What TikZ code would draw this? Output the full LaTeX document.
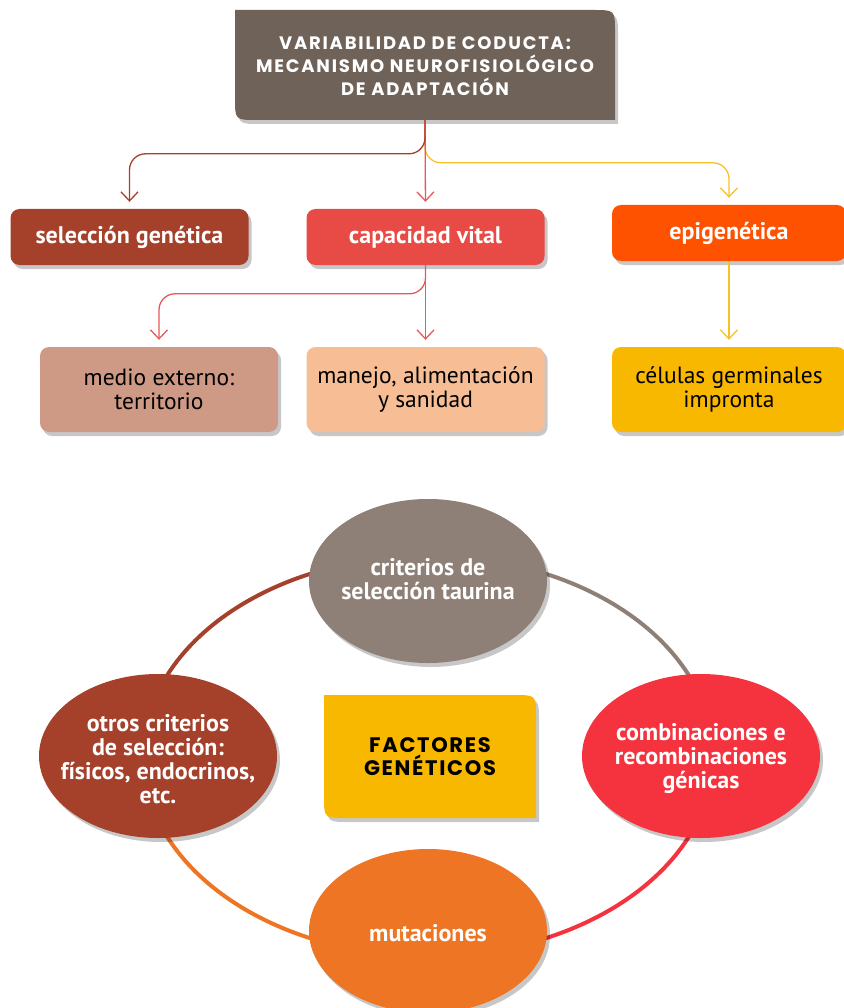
\documentclass[tikz,border=0pt]{standalone}
\usepackage{fontspec}
\setmainfont{PT Sans}
\newfontfamily\geo[LetterSpace=10]{Poppins}
\newfontfamily\geob[LetterSpace=8]{Poppins}
\usetikzlibrary{arrows.meta,shadows,calc,shapes.geometric}
\definecolor{topc}{HTML}{6E6259}
\definecolor{selc}{HTML}{A5402B}
\definecolor{capc}{HTML}{E84A45}
\definecolor{epic}{HTML}{FF5200}
\definecolor{medc}{HTML}{CF9A85}
\definecolor{manc}{HTML}{F7BE95}
\definecolor{celc}{HTML}{F9B800}
\definecolor{greyc}{HTML}{8E8077}
\definecolor{redc}{HTML}{F5333F}
\definecolor{orc}{HTML}{ED7523}
\definecolor{linered}{HTML}{E8585A}
\definecolor{lineyel}{HTML}{F8C02A}
\begin{document}
\begin{tikzpicture}[x=1pt,y=-1pt,
  sh/.style={drop shadow={shadow xshift=3pt,shadow yshift=-4pt,fill=black,opacity=0.22}},
  box/.style={rounded corners=9pt,minimum width=238pt,inner sep=0pt,align=center,sh},
  boxa/.style={box,minimum height=56pt,text=white,font=\fontsize{24}{24}\selectfont\bfseries},
  boxb/.style={box,minimum height=85pt,text=black,font=\fontsize{23.5}{24}\selectfont},
  ell/.style={ellipse,minimum width=238pt,minimum height=164pt,inner sep=0pt,sh},
  elltext/.style={align=center,text=white,inner sep=0pt,font=\fontsize{24}{24}\selectfont\bfseries},
  conn/.style={line width=1.3pt,rounded corners=16pt,-{Straight Barb[length=9pt,width=17pt]},shorten >=7pt},
  ring/.style={line width=4pt}
]
\useasboundingbox (0,0) rectangle (843,1008);
% top box
\fill[topc,sh] (235,10) -- (593,10) .. controls (615,10) .. (615,32) -- (615,120) -- (257,120) .. controls (235,120) .. (235,98) -- cycle;
\node[text=white,align=center,font=\geo\fontsize{18}{23}\selectfont\bfseries] (tb) at (425,66) {VARIABILIDAD DE CODUCTA:\\MECANISMO NEUROFISIOLÓGICO\\DE ADAPTACIÓN};
\coordinate (tbs) at (425,120);
% level 1
\node[boxa,fill=selc] (sel) at (129.5,237) {selección genética};
\node[boxa,fill=capc] (cap) at (425.5,237) {capacidad vital};
\node[boxa,fill=epic,minimum width=234pt] (epi) at (729,233) {epigenética};
% level 2
\node[boxb,fill=medc] (med) at (159,389.5) {medio externo:\\territorio};
\node[boxb,fill=manc] (man) at (425.5,389.5) {manejo, alimentación\\y sanidad};
\node[boxb,fill=celc,minimum width=234pt] (cel) at (729,389.5) {células germinales\\impronta};
% connectors
\draw[conn,lineyel] (tbs) |- ($(epi.north)+(0,-42)$) -- (epi.north);
\draw[conn,linered] (tbs) -- (cap.north);
\draw[conn,selc] (tbs) |- ($(sel.north)+(0,-55)$) -- (sel.north);
\draw[conn,linered] (cap.south) |- ($(med.north)+(0,-53)$) -- (med.north);
\draw[conn,linered] (cap.south) -- (man.north);
\draw[conn,lineyel] (epi.south) -- (cel.north);
% ring
\coordinate (rc) at (428,756);
\draw[ring,selc] ($(rc)+(-285,0)$) arc[start angle=180,end angle=270,x radius=285,y radius=200];
\draw[ring,greyc] ($(rc)+(0,-200)$) arc[start angle=270,end angle=360,x radius=285,y radius=200];
\draw[ring,redc] ($(rc)+(285,0)$) arc[start angle=0,end angle=90,x radius=285,y radius=200];
\draw[ring,orc] ($(rc)+(0,200)$) arc[start angle=90,end angle=180,x radius=285,y radius=200];
% ellipses
\node[ell,fill=greyc] (e1) at (428,581) {};
\node[ell,fill=selc] (e2) at (158,756) {};
\node[ell,fill=redc] (e3) at (701,756) {};
\node[ell,fill=orc] (e4) at (428,931) {};
\node[elltext] (t1) at ($(e1)+(0,-2)$) {criterios de\\selección taurina};
\node[elltext] (t2) at ($(e2)+(0,3)$) {otros criterios\\de selección:\\físicos, endocrinos,\\etc.};
\node[elltext] (t3) at ($(e3)+(0,3)$) {combinaciones e\\recombinaciones\\génicas};
\node[elltext] (t4) at ($(e4)+(0,2)$) {mutaciones};
% center box
\fill[celc,sh] (324,695) -- (514,695) .. controls (536,695) .. (536,717) -- (536,818) -- (346,818) .. controls (324,818) .. (324,796) -- cycle;
\node[align=center,font=\geob\fontsize{21}{23}\selectfont\bfseries] (fg) at (430,757) {FACTORES\\GENÉTICOS};
\end{tikzpicture}
\end{document}
